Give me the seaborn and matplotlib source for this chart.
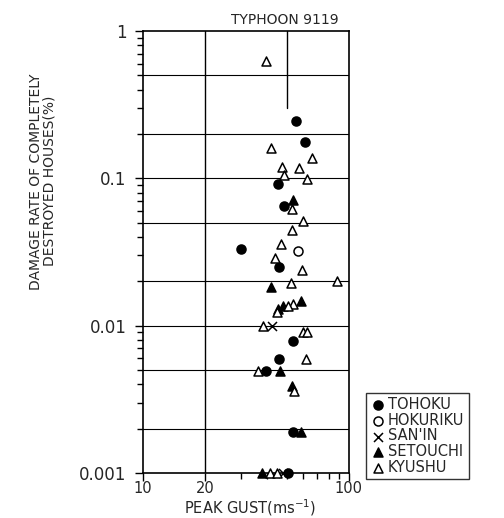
import numpy as np
import pandas as pd
import matplotlib
matplotlib.use("Agg")
import matplotlib.pyplot as plt
import seaborn as sns

# peak gust (m/s) and damage rate (%) per region, typhoon 9119
tohoku_x = [55.1, 61.6, 45.2, 48.4, 29.9, 45.6, 53.3, 45.6, 39.8, 53.7, 50.7]
tohoku_y = [0.245, 0.177, 0.092, 0.0648, 0.033, 0.0249, 0.0079, 0.0059, 0.0049, 0.0019, 0.001]

hokuriku_x = [56.4]
hokuriku_y = [0.0322]

sanin_x = [42.1, 48.0]
sanin_y = [0.0099, 0.001]

setouchi_x = [53.3, 41.7, 58.9, 48.0, 45.4, 46.2, 52.7, 58.9, 37.7]
setouchi_y = [0.0716, 0.0184, 0.0146, 0.0137, 0.0130, 0.0049, 0.0039, 0.0019, 0.001]

kyushu_x = [39.8, 41.7, 66.1, 47.1, 57.2, 48.4, 62.5, 53.1, 59.8, 53.1, 46.8, 43.6, 59.3,
            52.3, 87.8, 53.7, 50.7, 44.6, 38.4, 59.6, 62.3, 61.8, 36.3, 54.1, 41.4, 44.6]
kyushu_y = [0.63, 0.161, 0.138, 0.119, 0.118, 0.105, 0.0985, 0.0618, 0.051, 0.0443, 0.0356,
            0.029, 0.024, 0.0194, 0.020, 0.0141, 0.0135, 0.0123, 0.0099, 0.009, 0.009, 0.0059,
            0.0049, 0.0036, 0.001, 0.001]

regions = ["TOHOKU", "HOKURIKU", "SAN'IN", "SETOUCHI", "KYUSHU"]
xs = [tohoku_x, hokuriku_x, sanin_x, setouchi_x, kyushu_x]
ys = [tohoku_y, hokuriku_y, sanin_y, setouchi_y, kyushu_y]

hlines = [0.5, 0.2, 0.1, 0.05, 0.02, 0.01, 0.005, 0.002]

sns.set_style("ticks")
plt.rcParams["font.family"] = ["DejaVu Sans"]

fig = plt.figure(figsize=(5.04, 5.18), dpi=100)
ax = fig.add_axes([0.284, 0.087, 0.408, 0.853])

for h in hlines:
    ax.axhline(h, color="black", linewidth=0.8, zorder=1)
ax.axvline(20, color="black", linewidth=1.0, zorder=1)
ax.axvline(50, ymin=1 - np.log10(1 / 0.3) / 3, ymax=1, color="black", linewidth=1.0, zorder=1)

styles = {
    "TOHOKU": dict(marker="o", facecolor="black", edgecolor="black"),
    "HOKURIKU": dict(marker="o", facecolor="white", edgecolor="black"),
    "SAN'IN": dict(marker="x", color="black"),
    "SETOUCHI": dict(marker="^", facecolor="black", edgecolor="black"),
    "KYUSHU": dict(marker="^", facecolor="white", edgecolor="black"),
}

for name, x, y in zip(regions, xs, ys):
    df = pd.DataFrame({"gust": x, "rate": y})
    sns.scatterplot(data=df, x="gust", y="rate", ax=ax, s=42, linewidth=1.1,
                    label=name, clip_on=False, zorder=3, **styles[name])

ax.set_xscale("log")
ax.set_yscale("log")
ax.set_xlim(10, 100)
ax.set_ylim(0.001, 1)

ax.set_xticks([10, 20, 100])
ax.set_xticklabels(["10", "20", "100"], fontsize=10.5)
ax.set_yticks([0.001, 0.01, 0.1, 1])
ax.set_yticklabels(["0.001", "0.01", "0.1", "1"], fontsize=12)
ax.tick_params(axis="both", which="major", length=6, width=1, color="black")
ax.tick_params(axis="both", which="minor", length=4, width=1, color="black")
ax.tick_params(axis="x", which="major", pad=0)
ax.tick_params(axis="y", which="major", pad=6)
ax.xaxis.set_minor_formatter(matplotlib.ticker.NullFormatter())

for sp in ax.spines.values():
    sp.set_color("black")
    sp.set_linewidth(1.2)

ax.set_xlabel("PEAK GUST(ms$^{-1}$)", fontsize=10.5)
ax.xaxis.set_label_coords(0.52, -0.055)
ax.set_ylabel("DAMAGE RATE OF COMPLETELY\nDESTROYED HOUSES(%)", fontsize=10, linespacing=1.0)
ax.yaxis.set_label_coords(-0.42, 0.66)

ax.text(0.95, 1.01, "TYPHOON 9119", transform=ax.transAxes, ha="right", va="bottom", fontsize=10)

leg = ax.legend(loc="upper left", bbox_to_anchor=(0.726, 0.242), bbox_transform=fig.transFigure,
                fontsize=10.5, frameon=True, fancybox=False, edgecolor="black",
                borderpad=0.3, labelspacing=0.05, handletextpad=0.2, handlelength=1.0,
                borderaxespad=0)
leg.get_frame().set_linewidth(1.0)

fig.savefig("out.png", dpi=100)
